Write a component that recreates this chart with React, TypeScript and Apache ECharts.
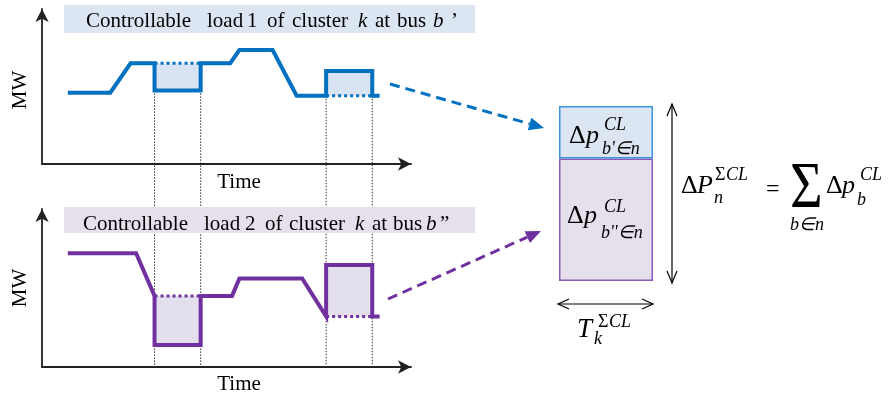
import React, { useEffect, useRef } from "react";
import * as echarts from "echarts";

const FONT = "Liberation Serif";
const BLUE = "#0070C0";
const PURPLE = "#7030A0";
const BLUE_FILL = "#DAE3F3";
const PURPLE_FILL = "#E4DFEC";

// Controllable load 1 (bus b') — [time, MW]
const load1: number[][] = [
  [7, 46], [18.5, 46], [24, 65], [30.5, 65], [30.5, 47.5], [43, 47.5], [43, 65],
  [51, 65], [53.5, 73.5], [62.5, 73.5], [69, 44], [77, 44], [77, 60], [89.5, 60],
  [89.5, 44], [91.5, 44],
];
// original (unshifted) profile segments of load 1
const load1Original: number[][][] = [
  [[30.5, 65], [43, 65]],
  [[77, 44], [89.5, 44]],
];
// shifted regions [x0, y0, x1, y1]
const load1Shift: number[][] = [
  [30.5, 47.5, 43, 65],
  [77, 44, 89.5, 60],
];

// Controllable load 2 (bus b'')
const load2: number[][] = [
  [7, 72], [25.5, 72], [30.5, 45], [30.5, 14], [43, 14], [43, 45], [51.5, 45],
  [53.5, 56], [70.5, 56], [77, 32], [77, 64.5], [89.5, 64.5], [89.5, 32], [91.5, 32],
];
const load2Original: number[][][] = [
  [[30.5, 45], [43, 45]],
  [[77, 32], [89.5, 32]],
];
const load2Shift: number[][] = [
  [30.5, 14, 43, 45],
  [77, 32, 89.5, 64.5],
];

// time instants of the shifts and where the guide lines start on load 1
const shiftTimes = [30.5, 43, 77, 89.5];
const guideStart = [47.5, 47.5, 44, 44];

// aggregated stack: [b'' share, b' share]
const stackShares = [70, 30];

const title1Words: [string, number, boolean][] = [
  ["Controllable", 86, false], ["load", 207, false], ["1", 247, false], ["of", 267, false],
  ["cluster", 292, false], ["k", 358, true], ["at", 375, false], ["bus", 397, false],
  ["b", 433, true], ["\u2019", 451, false],
];
const title2Words: [string, number, boolean][] = [
  ["Controllable", 83, false], ["load", 204, false], ["2", 245, false], ["of", 265, false],
  ["cluster", 289, false], ["k", 355, true], ["at", 372, false], ["bus", 393, false],
  ["b", 426, true], ["\u201D", 440, false],
];

function txt(x: number, base: number, text: string, size: number, italic = false, extra: any = {}) {
  const { align, ...rest } = extra;
  return {
    type: "text",
    z: 5,
    x,
    y: base - 0.34 * size,
    ...rest,
    style: {
      text,
      x: 0,
      y: 0,
      fontFamily: FONT,
      fontSize: size,
      fontStyle: italic ? "italic" : "normal",
      fill: "#000",
      textAlign: align || "left",
      textVerticalAlign: "middle",
      verticalAlign: "middle",
    },
  };
}

function arrowDashed(x1: number, y1: number, x2: number, y2: number, color: string) {
  const dx = x2 - x1, dy = y2 - y1;
  const L = Math.sqrt(dx * dx + dy * dy);
  const ux = dx / L, uy = dy / L;
  const len = 15, hw = 6.5;
  const bx = x2 - ux * len, by = y2 - uy * len;
  const px = -uy * hw, py = ux * hw;
  return [
    {
      type: "line", z: 4,
      shape: { x1, y1, x2: bx, y2: by },
      style: { stroke: color, lineWidth: 3, lineDash: [10, 6] },
    },
    {
      type: "polygon", z: 4,
      shape: { points: [[x2, y2], [bx + px, by + py], [bx - px, by - py]] },
      style: { fill: color },
    },
  ];
}

function axisCfg(gridIndex: number) {
  return {
    type: "value",
    gridIndex,
    min: 0,
    max: 100,
    axisLine: {
      show: true,
      onZero: false,
      symbol: ["none", "arrow"],
      symbolSize: [10, 13],
      lineStyle: { color: "#222", width: 1.8 },
    },
    axisTick: { show: false },
    axisLabel: { show: false },
    splitLine: { show: false },
  };
}

function dottedSeries(segs: number[][][], color: string, idx: number) {
  return segs.map((s) => ({
    type: "line",
    xAxisIndex: idx,
    yAxisIndex: idx,
    data: s,
    symbol: "none",
    silent: true,
    z: 3,
    lineStyle: { color, width: 3, type: [3, 3], cap: "butt" },
  }));
}

function loadSeries(data: number[][], shifts: number[][], color: string, fill: string, idx: number) {
  return {
    type: "line",
    xAxisIndex: idx,
    yAxisIndex: idx,
    data,
    symbol: "none",
    silent: true,
    z: 4,
    lineStyle: { color, width: 4, join: "miter", cap: "butt" },
    markArea: {
      silent: true,
      itemStyle: { color: fill },
      label: { show: false },
      data: shifts.map((r) => [{ xAxis: r[0], yAxis: r[1] }, { xAxis: r[2], yAxis: r[3] }]),
    },
  };
}

export default function App() {
  const ref = useRef<HTMLDivElement>(null);
  useEffect(() => {
    if (!ref.current) return;
    const chart = echarts.init(ref.current, null, { renderer: "svg" });
    const option: any = {
      animation: false,
      textStyle: { fontFamily: FONT },
      grid: [
        { left: 42, top: 9, width: 369, height: 155 },
        { left: 42, top: 209, width: 369, height: 158 },
        { left: 559, top: 106, width: 94, height: 175 },
      ],
      xAxis: [
        axisCfg(0),
        axisCfg(1),
        { type: "category", gridIndex: 2, data: ["n"], show: false },
      ],
      yAxis: [
        axisCfg(0),
        axisCfg(1),
        { type: "value", gridIndex: 2, min: 0, max: 100, show: false },
      ],
      series: [
        loadSeries(load1, load1Shift, BLUE, BLUE_FILL, 0),
        ...dottedSeries(load1Original, BLUE, 0),
        loadSeries(load2, load2Shift, PURPLE, PURPLE_FILL, 1),
        ...dottedSeries(load2Original, PURPLE, 1),
        {
          type: "bar", xAxisIndex: 2, yAxisIndex: 2, stack: "cl", barWidth: "100%",
          data: [stackShares[0]], silent: true,
          itemStyle: { color: "#E6E0EC", borderColor: "#8A5AB8", borderWidth: 1.5 },
        },
        {
          type: "bar", xAxisIndex: 2, yAxisIndex: 2, stack: "cl", barWidth: "100%",
          data: [stackShares[1]], silent: true,
          itemStyle: { color: "#DCE6F2", borderColor: "#3D94DA", borderWidth: 1.5 },
        },
      ],
    };
    chart.setOption(option);

    const g: any[] = [];
    // vertical guides
    shiftTimes.forEach((t, i) => {
      const p1 = chart.convertToPixel({ gridIndex: 0 } as any, [t, guideStart[i]]) as number[];
      const p2 = chart.convertToPixel({ gridIndex: 1 } as any, [t, 1]) as number[];
      g.push({
        type: "line", z: 0,
        shape: { x1: p1[0], y1: p1[1], x2: p2[0], y2: p2[1] },
        style: { stroke: "#333", lineWidth: 1, lineDash: [1.5, 1.5] },
      });
    });
    // title boxes
    g.push({ type: "rect", z: 1, shape: { x: 64, y: 5, width: 411, height: 28 }, style: { fill: "#DCE6F2" } });
    g.push({ type: "rect", z: 1, shape: { x: 64, y: 207, width: 411, height: 26 }, style: { fill: "#E6E0EC" } });
    title1Words.forEach(([w, x, it]) => g.push(txt(x, 27, w, 21, it)));
    title2Words.forEach(([w, x, it]) => g.push(txt(x, 230, w, 21, it)));
    // axis labels
    g.push(txt(0, 0, "MW", 21, false, { x: 19, y: 90, rotation: Math.PI / 2, align: "center" }));
    g.push(txt(0, 0, "MW", 21, false, { x: 19, y: 288, rotation: Math.PI / 2, align: "center" }));
    g.push(txt(239, 188, "Time", 21, false, { align: "center" }));
    g.push(txt(239, 390, "Time", 21, false, { align: "center" }));
    // dashed arrows
    g.push(...arrowDashed(390, 84, 544, 128, BLUE));
    g.push(...arrowDashed(388, 299, 541, 231, PURPLE));
    // double arrows
    g.push({ type: "line", z: 4, shape: { x1: 672, y1: 104, x2: 672, y2: 283 }, style: { stroke: "#000", lineWidth: 1.2 } });
    g.push({ type: "polyline", z: 4, shape: { points: [[667, 116], [672, 104], [677, 116]] }, style: { stroke: "#000", lineWidth: 1.2, fill: null } });
    g.push({ type: "polyline", z: 4, shape: { points: [[667, 271], [672, 283], [677, 271]] }, style: { stroke: "#000", lineWidth: 1.2, fill: null } });
    g.push({ type: "line", z: 4, shape: { x1: 558, y1: 304, x2: 653, y2: 304 }, style: { stroke: "#000", lineWidth: 1.2 } });
    g.push({ type: "polyline", z: 4, shape: { points: [[569, 299], [558, 304], [569, 309]] }, style: { stroke: "#000", lineWidth: 1.2, fill: null } });
    g.push({ type: "polyline", z: 4, shape: { points: [[642, 299], [653, 304], [642, 309]] }, style: { stroke: "#000", lineWidth: 1.2, fill: null } });
    // box formulas
    g.push(txt(569, 143, "\u0394", 26));
    g.push(txt(586, 143, "p", 26, true));
    g.push(txt(604, 130, "CL", 18, true));
    g.push(txt(602, 154, "b'\u2208n", 18, true));
    g.push(txt(567, 223, "\u0394", 26));
    g.push(txt(584, 223, "p", 26, true));
    g.push(txt(604, 212, "CL", 18, true));
    g.push(txt(601, 238, "b''\u2208n", 18, true));
    // right formula
    g.push(txt(681, 193, "\u0394", 26));
    g.push(txt(697, 193, "P", 26, true));
    g.push(txt(715, 180, "\u03A3", 18));
    g.push(txt(726, 180, "CL", 18, true));
    g.push(txt(714, 203, "n", 18, true));
    g.push(txt(766, 196, "=", 24));
    g.push(txt(790, 207, "\u03A3", 66, false, { scaleX: 0.85 }));
    g.push(txt(790, 230, "b\u2208n", 18, true));
    g.push(txt(826, 193, "\u0394", 26));
    g.push(txt(842, 193, "p", 26, true));
    g.push(txt(860, 180, "CL", 18, true));
    g.push(txt(857, 205, "b", 18, true));
    // T
    g.push(txt(577, 337, "T", 27, true));
    g.push(txt(598, 327, "\u03A3", 18));
    g.push(txt(609, 327, "CL", 18, true));
    g.push(txt(594, 344, "k", 18, true));

    chart.setOption({ graphic: g });
    return () => chart.dispose();
  }, []);
  return <div ref={ref} style={{ position: "fixed", left: 0, top: 0, width: 891, height: 403 }} />;
}
